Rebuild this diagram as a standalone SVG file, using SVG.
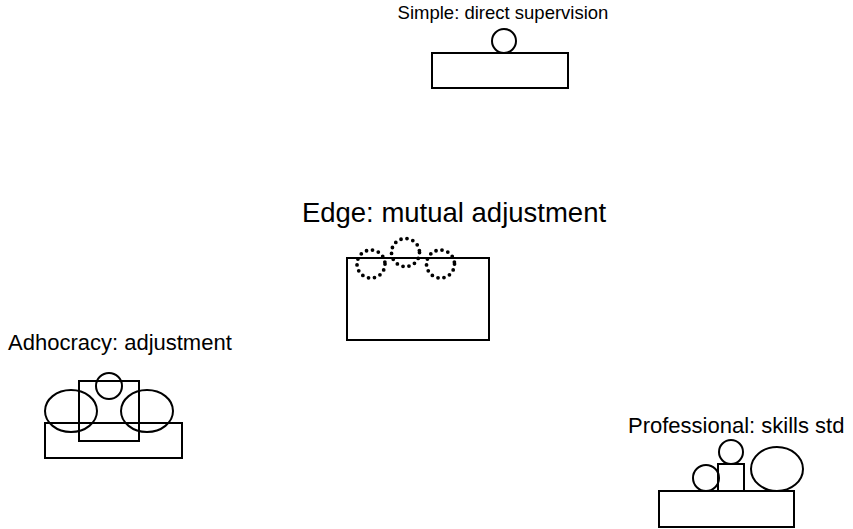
<svg xmlns="http://www.w3.org/2000/svg" width="853" height="529" viewBox="0 0 853 529">
<style>
.s{fill:none;stroke:#000;stroke-width:2}
.d{fill:none;stroke:#000;stroke-width:3.8;stroke-dasharray:0 6.1;stroke-linecap:round}
.t{font-family:"Liberation Sans",Arial,sans-serif;font-size:22px;fill:#000}
.sm{font-size:18.5px}
.big{font-size:27.5px}
</style>
<rect width="853" height="529" fill="#fff"/>
<g id="simple">
<text class="t sm" x="503" y="19" text-anchor="middle">Simple: direct supervision</text>
<circle class="s" cx="504" cy="41" r="12"/>
<rect class="s" x="432" y="53" width="136" height="35"/>
</g>
<g id="edge">
<text class="t big" x="454" y="222" text-anchor="middle">Edge: mutual adjustment</text>
<rect class="s" x="347" y="258" width="142" height="82"/>
<circle class="d" cx="371" cy="264" r="14"/>
<circle class="d" cx="405.5" cy="252.5" r="14"/>
<circle class="d" cx="440.5" cy="264" r="14"/>
</g>
<g id="adhocracy">
<text class="t" x="8" y="350">Adhocracy: adjustment</text>
<rect class="s" x="45" y="423" width="137" height="35"/>
<rect class="s" x="79" y="381" width="60" height="60"/>
<circle class="s" cx="109" cy="386" r="13"/>
<ellipse class="s" cx="71" cy="411" rx="26" ry="21"/>
<ellipse class="s" cx="147" cy="411" rx="26" ry="21"/>
</g>
<g id="professional">
<text class="t" x="628" y="433">Professional: skills std</text>
<rect class="s" x="659" y="491" width="135" height="36"/>
<rect class="s" x="718" y="464" width="26" height="27"/>
<circle class="s" cx="731" cy="452" r="12"/>
<circle class="s" cx="706" cy="478" r="13"/>
<ellipse class="s" cx="777" cy="469" rx="26" ry="22"/>
</g>
<g id="connectors"></g>
</svg>
